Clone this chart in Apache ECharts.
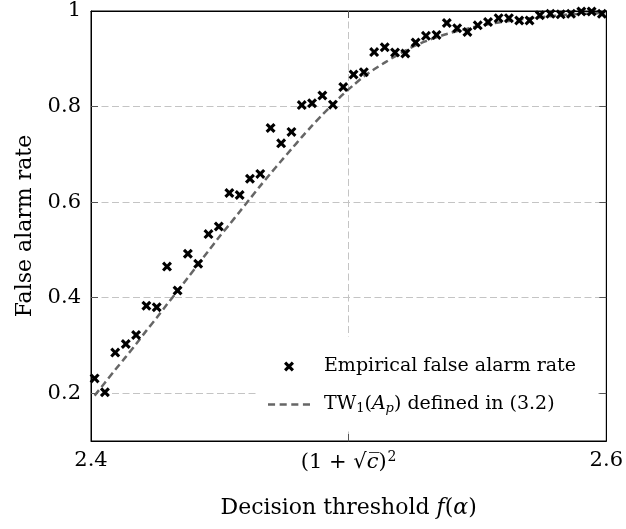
<!DOCTYPE html>
<html>
<head>
<meta charset="utf-8">
<script src="https://cdn.jsdelivr.net/npm/echarts@6/dist/echarts.min.js"></script>
<style>html,body{margin:0;padding:0;background:#fff}#c{width:626px;height:529px}</style>
</head>
<body>
<div id="c"></div>
<script>
const thresholds = [2.4014, 2.4054, 2.4094, 2.4135, 2.4175, 2.4215, 2.4255, 2.4295, 2.4336, 2.4376,
  2.4416, 2.4456, 2.4496, 2.4537, 2.4577, 2.4617, 2.4657, 2.4697, 2.4738, 2.4778,
  2.4818, 2.4858, 2.4898, 2.4939, 2.4979, 2.5019, 2.5059, 2.5099, 2.5140, 2.5180,
  2.5220, 2.5260, 2.5300, 2.5341, 2.5381, 2.5421, 2.5461, 2.5501, 2.5541, 2.5582,
  2.5622, 2.5662, 2.5702, 2.5742, 2.5783, 2.5823, 2.5863, 2.5903, 2.5943, 2.5983];
const empiricalRate = [0.231, 0.202, 0.285, 0.303, 0.322, 0.383, 0.380, 0.465, 0.415, 0.492,
  0.471, 0.533, 0.549, 0.619, 0.615, 0.649, 0.659, 0.755, 0.723, 0.747,
  0.803, 0.807, 0.823, 0.804, 0.841, 0.867, 0.872, 0.914, 0.924, 0.913,
  0.911, 0.934, 0.948, 0.950, 0.975, 0.964, 0.956, 0.970, 0.977, 0.985,
  0.985, 0.980, 0.980, 0.991, 0.994, 0.993, 0.994, 0.999, 0.999, 0.994];
const twRate = [0.195, 0.222, 0.249, 0.276, 0.303, 0.331, 0.358, 0.386, 0.414, 0.442,
  0.470, 0.498, 0.526, 0.553, 0.580, 0.607, 0.634, 0.660, 0.686, 0.711,
  0.736, 0.760, 0.783, 0.805, 0.826, 0.845, 0.863, 0.878, 0.892, 0.905,
  0.917, 0.928, 0.937, 0.945, 0.952, 0.958, 0.963, 0.968, 0.972, 0.976,
  0.979, 0.982, 0.985, 0.987, 0.989, 0.991, 0.993, 0.994, 0.995, 0.996];
const xTickValues = [2.4, 2.5, 2.6];
const yTickValues = [0.2, 0.4, 0.6, 0.8, 1];
const yGridValues = [0.2, 0.4, 0.6, 0.8];
const seriesNames = ['Empirical false alarm rate', 'TW1(Ap) defined in (3.2)'];
const xAxisTitle = 'Decision threshold {i|f}({i|α})';
const yAxisTitle = 'False alarm rate';

const FONT = 'DejaVu Serif';
const crossPath = 'path://M2.2,0 L5,2.8 L7.8,0 L10,2.2 L7.2,5 L10,7.8 L7.8,10 L5,7.2 L2.2,10 L0,7.8 L2.8,5 L0,2.2 Z';
const dashIcon = 'path://M0,0h7v2.5h-7z M11.5,0h7v2.5h-7z M23,0h7v2.5h-7z M34.5,0h7v2.5h-7z';
const gridDash = {color: '#c4c4c4', width: 1, type: [7, 3.5]};

const chart = echarts.init(document.getElementById('c'), null, {renderer: 'canvas'});
chart.setOption({
  animation: false,
  backgroundColor: '#fff',
  grid: {left: 91, top: 11, width: 518, height: 430, show: true, borderColor: '#000', borderWidth: 1, backgroundColor: 'transparent'},
  xAxis: [{
    type: 'value', min: 2.4, max: 2.6, position: 'bottom',
    axisLine: {show: true, onZero: false, lineStyle: {color: '#000', width: 1}},
    axisTick: {show: true, inside: true, length: 7, customValues: [2.5], lineStyle: {color: '#555'}},
    axisLabel: {customValues: xTickValues, margin: 9, fontFamily: FONT, fontSize: 21, color: '#000',
      formatter: v => Math.abs(v - 2.5) < 1e-9 ? '(1 + √{i|c\u0305}){sup|2}' : v.toFixed(1),
      rich: {i: {fontFamily: FONT, fontSize: 21, fontStyle: 'italic', color: '#000'},
             sup: {fontFamily: FONT, fontSize: 14, color: '#000', padding: [0, 0, 12, 1]}}},
    splitLine: {show: true, lineStyle: gridDash},
    name: xAxisTitle, nameLocation: 'middle', nameGap: 56,
    nameTextStyle: {fontFamily: FONT, fontSize: 22, color: '#000',
      rich: {i: {fontFamily: FONT, fontSize: 22, fontStyle: 'italic', color: '#000'}}}
  }, {
    type: 'value', min: 2.4, max: 2.6, position: 'top',
    axisLine: {show: true, onZero: false, lineStyle: {color: '#000', width: 1}},
    axisTick: {show: true, inside: true, length: 7, customValues: [2.5], lineStyle: {color: '#555'}},
    axisLabel: {show: false}, splitLine: {show: false}
  }],
  yAxis: [{
    type: 'value', min: 0.1, max: 1, position: 'left',
    axisLine: {show: true, onZero: false, lineStyle: {color: '#000', width: 1}},
    axisTick: {show: true, inside: true, length: 7, customValues: yGridValues, lineStyle: {color: '#555'}},
    axisLabel: {customValues: yTickValues, margin: 10, fontFamily: FONT, fontSize: 21, color: '#000',
      formatter: v => Math.abs(v - 1) < 1e-9 ? '1' : v.toFixed(1)},
    splitLine: {show: true, lineStyle: gridDash},
    name: yAxisTitle, nameLocation: 'middle', nameGap: 55, nameRotate: 90,
    nameTextStyle: {fontFamily: FONT, fontSize: 22, color: '#000'}
  }, {
    type: 'value', min: 0.1, max: 1, position: 'right',
    axisLine: {show: true, onZero: false, lineStyle: {color: '#000', width: 1}},
    axisTick: {show: true, inside: true, length: 7, customValues: yGridValues, lineStyle: {color: '#555'}},
    axisLabel: {show: false}, splitLine: {show: false}
  }],
  legend: {
    orient: 'vertical', left: 258, top: 337,
    padding: [20, 22, 16, 10], itemGap: 19, itemWidth: 42, itemHeight: 10,
    backgroundColor: '#fff', borderWidth: 0,
    data: [{name: seriesNames[0]}, {name: seriesNames[1], icon: dashIcon, itemStyle: {color: '#666666'}}],
    textStyle: {fontFamily: FONT, fontSize: 19, color: '#000', padding: [0, 0, 0, 9],
      rich: {
        ia: {fontFamily: FONT, fontSize: 19, fontStyle: 'italic', color: '#000'},
        s: {fontFamily: FONT, fontSize: 13, color: '#000', padding: [9, 0, 0, 0]},
        si: {fontFamily: FONT, fontSize: 13, fontStyle: 'italic', color: '#000', padding: [9, 0, 0, 0]},
        m: {fontFamily: FONT, fontSize: 19, color: '#000'}
      }},
    formatter: name => name === seriesNames[1]
      ? '{m|TW}{s|1}{m|(}{ia|A}{si|p}{m|) defined in (3.2)}'
      : name
  },
  series: [{
    name: seriesNames[1], type: 'line', xAxisIndex: 0, yAxisIndex: 0,
    data: thresholds.map((x, i) => [x, twRate[i]]),
    showSymbol: false, symbol: 'none', smooth: 0.3, z: 2,
    lineStyle: {color: '#666666', width: 2.5, type: [7, 4]},
    itemStyle: {color: '#666666'}
  }, {
    name: seriesNames[0], type: 'scatter', xAxisIndex: 0, yAxisIndex: 0,
    data: thresholds.map((x, i) => [x, empiricalRate[i]]),
    symbol: crossPath, symbolSize: 10, z: 3,
    itemStyle: {color: '#000', opacity: 1}
  }]
});
</script>
</body>
</html>
